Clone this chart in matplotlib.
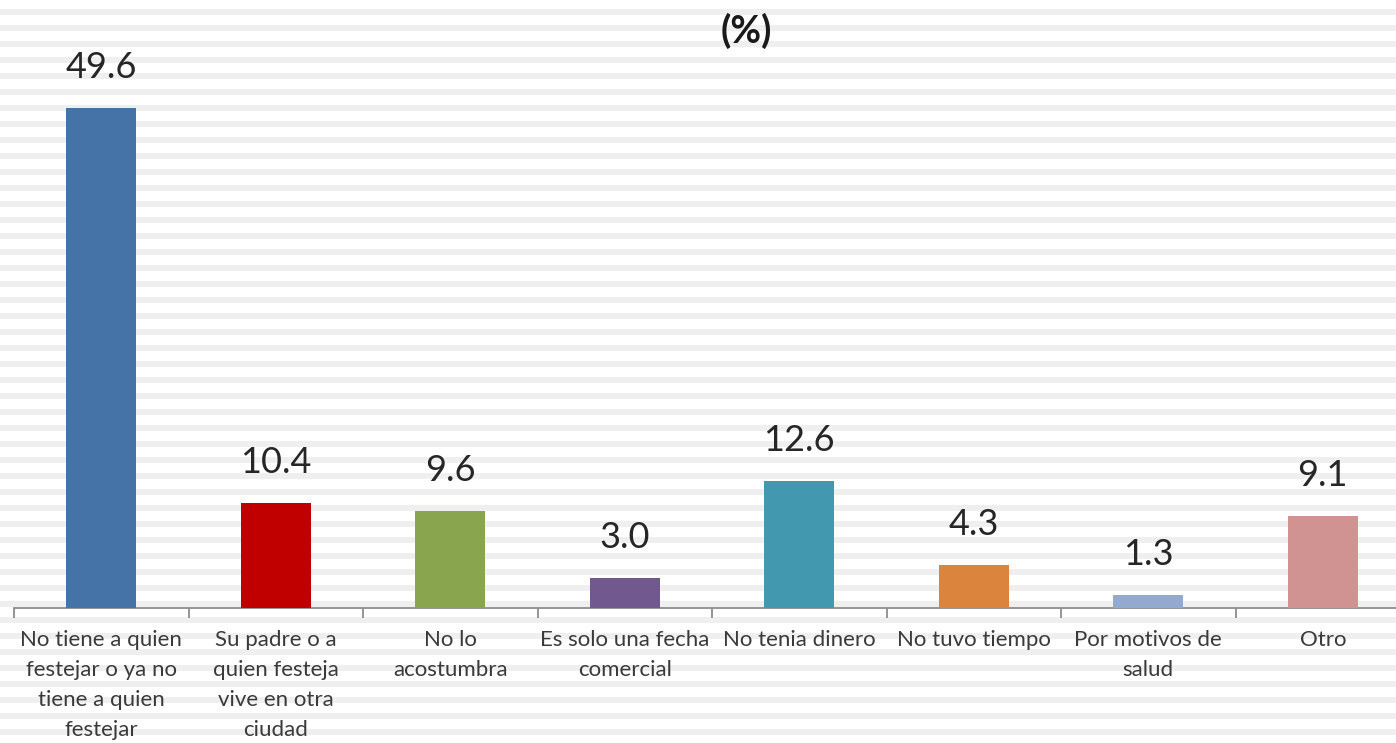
import matplotlib
matplotlib.use('Agg')
import matplotlib.pyplot as plt
from matplotlib.patches import Rectangle

categories = ['No tiene a quien\nfestejar o ya no\ntiene a quien\nfestejar',
              'Su padre o a\nquien festeja\nvive en otra\nciudad',
              'No lo\nacostumbra',
              'Es solo una fecha\ncomercial',
              'No tenia dinero',
              'No tuvo tiempo',
              'Por motivos de\nsalud',
              'Otro']
values = [49.6, 10.4, 9.6, 3.0, 12.6, 4.3, 1.3, 9.1]
colors = ['#4572A7', '#C00000', '#89A54E', '#71588F',
          '#4198AF', '#DB843D', '#93A9CF', '#D19392']

plt.rcParams['font.family'] = ['Lato', 'DejaVu Sans']

W, H = 1396, 743
fig = plt.figure(figsize=(W / 100, H / 100), dpi=100)
fig.patch.set_facecolor('white')

# striped background
for y in range(9, H, 16):
    fig.add_artist(Rectangle((0, 1 - (y + 6) / H), 1, 6 / H, transform=fig.transFigure,
                             facecolor='#efefef', edgecolor='none', zorder=-5))

# axis spans 14px .. 1410px, baseline at y=608
ymax = 60
px_per_unit = 500 / 49.6
ax = fig.add_axes([14 / W, (H - 608) / H, 1396 / W, ymax * px_per_unit / H])
ax.set_facecolor('none')
x = range(len(values))
ax.bar(x, values, width=0.4, color=colors, zorder=3)
ax.set_xlim(-0.5, len(values) - 0.5)
ax.set_ylim(0, ymax)

for xi, v in zip(x, values):
    ax.annotate(f'{v:.1f}', (xi, v), xytext=(0, 21.5), textcoords='offset points',
                ha='center', va='baseline', fontsize=26, color='#262626')

for s in ['top', 'right', 'left']:
    ax.spines[s].set_visible(False)
ax.spines['bottom'].set_color('#8c8c8c')
ax.spines['bottom'].set_linewidth(1.3)
ax.set_yticks([])
ax.set_xticks(list(x))
ax.set_xticklabels(categories, fontsize=16, color='#3a3a3a', linespacing=1.62)
ax.tick_params(axis='x', which='major', length=0, pad=16)
ax.set_xticks([i - 0.5 for i in range(len(values) + 1)], minor=True)
ax.tick_params(axis='x', which='minor', length=7, width=1.3, color='#8c8c8c')

fig.text(746 / W, 1 - 31 / H, '(%)', ha='center', va='center',
         fontsize=27, fontweight='bold', color='#1a1a1a')

fig.savefig('out.png', dpi=100)
